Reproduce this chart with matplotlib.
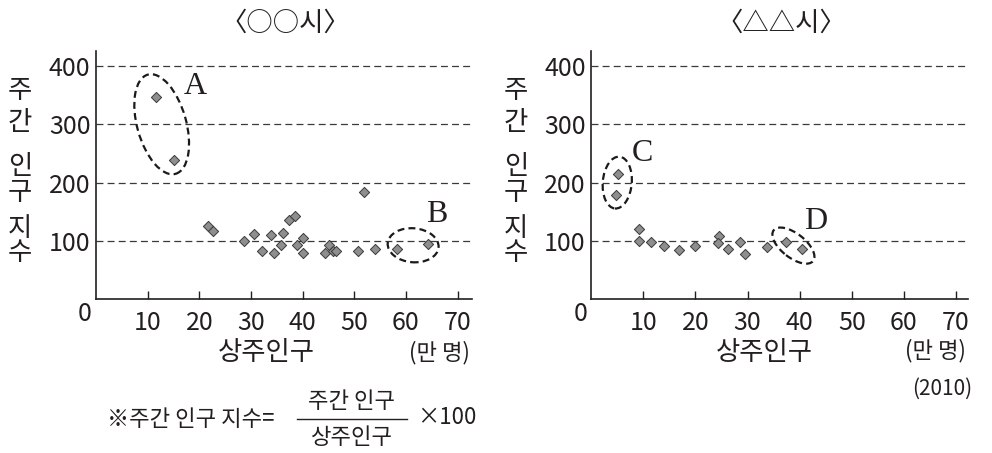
import matplotlib
matplotlib.use("Agg")
import matplotlib.pyplot as plt
from matplotlib.patches import Ellipse
from matplotlib.transforms import ScaledTranslation

plt.rcParams['font.family'] = ['Noto Sans CJK KR', 'DejaVu Sans']
plt.rcParams['lines.scale_dashes'] = False

# ---- data ----
city1_title = "〈○○시〉"
city2_title = "〈△△시〉"
city1_x = [11.6, 15.1, 21.7, 22.7, 28.7, 30.5, 32.2, 33.8, 34.5, 35.8, 36.2, 37.3, 38.6,
           38.9, 40.0, 40.0, 44.3, 45.1, 45.9, 46.4, 50.7, 51.9, 54.1, 58.3, 64.2]
city1_y = [347, 239, 126, 117, 100, 112, 83, 111, 79, 93, 113, 136, 143,
           93, 105, 79, 79, 93, 83, 82, 82, 184, 86, 86, 94]
city2_x = [5.1, 4.7, 9.2, 9.2, 11.5, 13.9, 16.9, 19.9, 24.5, 24.3, 26.3, 28.6, 29.6, 33.7, 37.4, 40.5]
city2_y = [214, 178, 121, 100, 99, 92, 84, 92, 109, 97, 87, 98, 78, 90, 99, 86]
x_ticks = [10, 20, 30, 40, 50, 60, 70]
y_ticks = [100, 200, 300, 400]
ylabel_chars = ["주", "간", "인", "구", "지", "수"]
xlabel = "상주인구"
unit = "(만 명)"
year = "(2010)"
# group annotations: (label, center x, center y, width px, height px, angle, label x, label y)
groups1 = [("A", 12.7, 300, 49, 103, 15.6, 19.2, 364),
           ("B", 61.4, 92.6, 51, 34, -5, 66.0, 145)]
groups2 = [("C", 5.0, 200, 29, 52, -5, 9.8, 250),
           ("D", 38.8, 92, 50, 24, -38, 43.1, 133)]

W, H = 992, 453
fig = plt.figure(figsize=(W / 100, H / 100), dpi=100)
TXT = '#231f20'

def px_axes(x0, x1, ytop, ybot):
    return [x0 / W, 1 - ybot / H, (x1 - x0) / W, (ybot - ytop) / H]

def ftext(x, y, s, **kw):
    fig.text(x / W, 1 - y / H, s, color=TXT, **kw)

ax1 = fig.add_axes(px_axes(96.1, 472, 50.7, 299.3))
ax2 = fig.add_axes(px_axes(591.2, 968, 50.7, 299.3))

for ax, xs, ys, xmax, groups in [(ax1, city1_x, city1_y, 72.8, groups1),
                                 (ax2, city2_x, city2_y, 72.3, groups2)]:
    ax.set_xlim(0, xmax)
    ax.set_ylim(0, 426)
    for sp in ['top', 'right']:
        ax.spines[sp].set_visible(False)
    for sp in ['left', 'bottom']:
        ax.spines[sp].set_linewidth(1.2)
        ax.spines[sp].set_color(TXT)
    for yv in y_ticks:
        ax.axhline(yv, color='#3a3a3a', lw=0.9, linestyle=(0, (5, 3)), zorder=1)
    ax.scatter(xs, ys, marker='D', s=27, facecolor='#8e8e8e', edgecolor='#3a3a3a',
               linewidths=0.7, zorder=3)
    ax.set_xticks(x_ticks)
    ax.set_xticklabels([str(v) for v in x_ticks])
    ax.set_yticks(y_ticks)
    ax.set_yticklabels([str(v) for v in y_ticks])
    ax.tick_params(axis='x', direction='in', length=6, width=1, color=TXT, pad=8,
                   labelsize=18, labelcolor=TXT)
    ax.tick_params(axis='y', length=0, pad=4, labelsize=18, labelcolor=TXT)
    for lab, cx, cy, w, h, ang, lx, ly in groups:
        tr = fig.dpi_scale_trans + ScaledTranslation(cx, cy, ax.transData)
        e = Ellipse((0, 0), w / 100, h / 100, angle=ang, transform=tr, fill=False,
                    edgecolor='#1a1a1a', lw=1.6, linestyle=(0, (5, 3)), zorder=4,
                    clip_on=False)
        ax.add_patch(e)
        ax.text(lx, ly, lab, fontsize=23, family='Liberation Serif', color=TXT,
                ha='center', va='center', zorder=5)

# titles
ftext(285, 23, city1_title, fontsize=19, ha='center', va='center')
ftext(781, 23, city2_title, fontsize=19, ha='center', va='center')

# y-axis vertical labels
char_y = [91, 122, 167, 192, 228, 253]
for xoff in [20, 516]:
    for ch, cy in zip(ylabel_chars, char_y):
        ftext(xoff, cy, ch, fontsize=19, ha='center', va='center')

# origin zeros
ftext(85, 314, "0", fontsize=18, ha='center', va='center')
ftext(581, 314, "0", fontsize=18, ha='center', va='center')

# x labels and units
ftext(266, 352, xlabel, fontsize=19, ha='center', va='center')
ftext(764, 352, xlabel, fontsize=19, ha='center', va='center')
ftext(439, 353, unit, fontsize=16, ha='center', va='center')
ftext(935, 351, unit, fontsize=16, ha='center', va='center')
ftext(972, 389, year, fontsize=15, ha='right', va='center')

# formula
ftext(107, 420, "※주간 인구 지수=", fontsize=16, ha='left', va='center')
ftext(352, 402, "주간 인구", fontsize=16, ha='center', va='center')
ftext(352, 437, "상주인구", fontsize=16, ha='center', va='center')
fig.add_artist(plt.Line2D([297 / W, 407 / W], [1 - 419 / H, 1 - 419 / H], color=TXT, lw=1.0))
ftext(417, 418, "×100", fontsize=16, ha='left', va='center')

fig.savefig("out.png", dpi=100)
